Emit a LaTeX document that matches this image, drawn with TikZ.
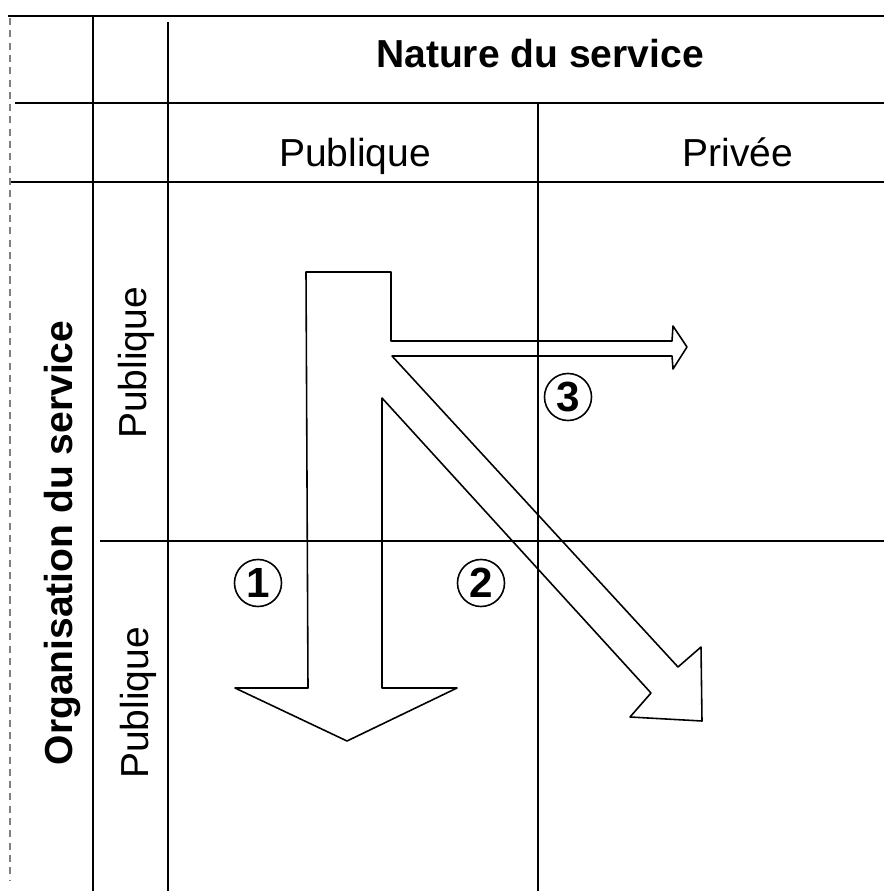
\documentclass[tikz,border=0pt]{standalone}
\usepackage{fontspec}
\setmainfont{Liberation Sans}
\usetikzlibrary{calc}
\tikzset{
    rule line/.style={line width=0.65pt},
    grid line/.style={line width=0.35pt},
    head/.style={font=\bfseries\fontsize{11.1}{13}\selectfont, inner sep=0pt, anchor=base},
    cell/.style={font=\fontsize{11.1}{13}\selectfont, inner sep=0pt, anchor=base},
    num/.style={circle, draw, line width=0.45pt, inner sep=0pt, minimum size=0.47cm,
        font=\bfseries\fontsize{12}{13}\selectfont},
    flow/.style={line width=0.45pt, line join=round}
}

\begin{document}
\begin{tikzpicture}[x=0.01cm, y=-0.01cm]
    \useasboundingbox (0,0) rectangle (884,891);
    % Horizontal rules
    \draw[rule line] (8,16) -- (884,16);
    \draw[rule line] (15,103) -- (884,103);
    \draw[rule line] (10,182) -- (884,182);
    \draw[rule line] (100,541) -- (884,541);
    % Vertical rules
    \draw[grid line, gray, dash pattern=on 2pt off 1.5pt] (10,18) -- (10,880);
    \draw[grid line] (93,16) -- (93,891);
    \draw[grid line] (168,22) -- (168,891);
    \draw[grid line] (538,103) -- (538,891);
    % Headings
    \node[head] (nature) at (540,68) {Nature du service};
    \node[cell] (colpub) at (355,167) {Publique};
    \node[cell] (colpriv) at (738,167) {Privée};
    \node[head, rotate=90] (organisation) at (72,543) {Organisation du service};
    \node[cell, rotate=90] (rowpubA) at (146,363) {Publique};
    \node[cell, rotate=90] (rowpubB) at (148,703) {Publique};
    % Flow arrows (one outline)
    \draw[flow] (306,272) -- (391,272) -- (391,341) -- (672,341) -- (673,326)
        -- (687,347) -- (673,369) -- (672,356) -- (392,356) -- (678,667)
        -- (701,647) -- (702,721) -- (630,717) -- (651,693) -- (382,398)
        -- (382,688) -- (457,688) -- (347,741) -- (235,688) -- (308,688) -- cycle;
    % Numbers
    \node[num] (one) at (258,583) {1};
    \node[num] (two) at (481,583) {2};
    \node[num] (three) at (568,397) {3};
\end{tikzpicture}
\end{document}
